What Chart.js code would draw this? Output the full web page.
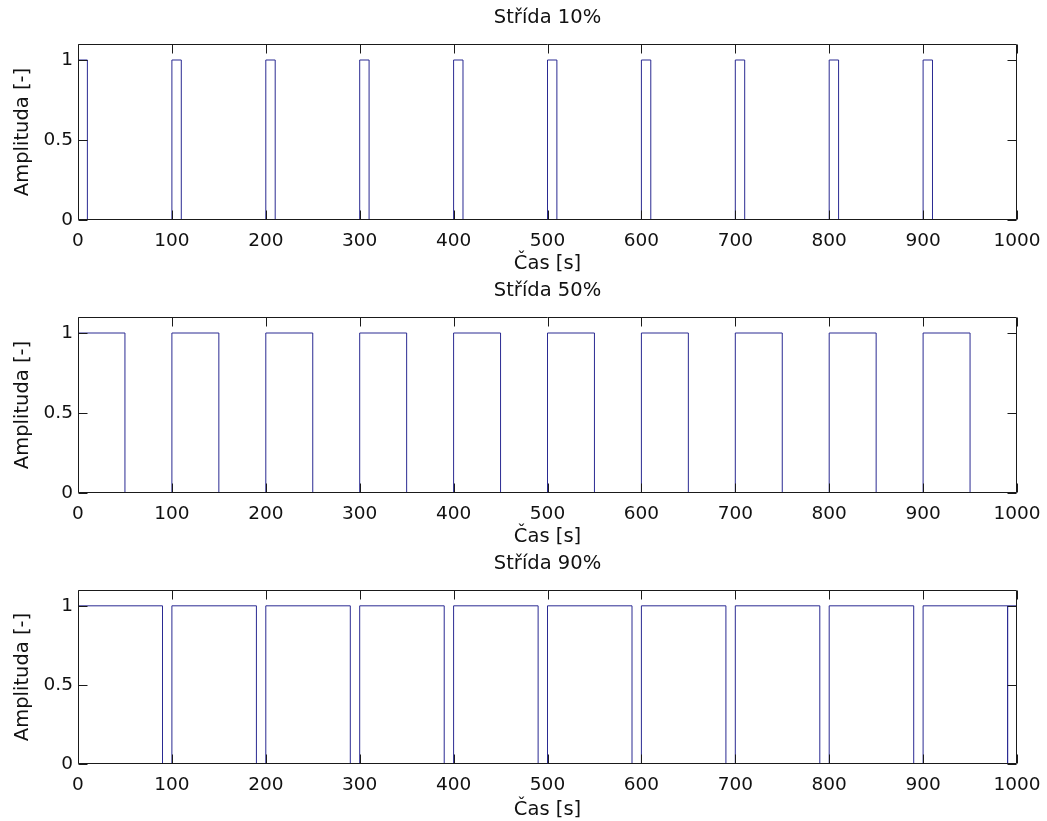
<!DOCTYPE html>
<html>
<head>
<meta charset="utf-8">
<script src="https://cdn.jsdelivr.net/npm/chart.js@4.4.1/dist/chart.umd.min.js"></script>
<style>
  html, body { margin: 0; padding: 0; background: #ffffff; width: 1047px; height: 821px; overflow: hidden; }
  canvas { position: absolute; left: 0; }
</style>
</head>
<body>
<canvas id="c1" width="1047" height="280" style="top:0px"></canvas>
<canvas id="c2" width="1047" height="280" style="top:273px"></canvas>
<canvas id="c3" width="1047" height="278" style="top:546px"></canvas>
<script>
// ---- data ----
const xTickValues = [0, 100, 200, 300, 400, 500, 600, 700, 800, 900, 1000];
const yTickValues = [0, 0.5, 1];
const titles = ['Střída 10%', 'Střída 50%', 'Střída 90%'];
const xLabel = 'Čas [s]';
const yLabel = 'Amplituda [-]';

// switching times [s] and the level that starts at each time
const times10 = [0, 10, 100, 110, 200, 210, 300, 310, 400, 410, 500, 510, 600, 610, 700, 710, 800, 810, 900, 910, 1000];
const levels10 = [1, 0, 1, 0, 1, 0, 1, 0, 1, 0, 1, 0, 1, 0, 1, 0, 1, 0, 1, 0, 0];

const times50 = [0, 50, 100, 150, 200, 250, 300, 350, 400, 450, 500, 550, 600, 650, 700, 750, 800, 850, 900, 950, 1000];
const levels50 = [1, 0, 1, 0, 1, 0, 1, 0, 1, 0, 1, 0, 1, 0, 1, 0, 1, 0, 1, 0, 0];

const times90 = [0, 90, 100, 190, 200, 290, 300, 390, 400, 490, 500, 590, 600, 690, 700, 790, 800, 890, 900, 990, 990, 1000];
const levels90 = [1, 0, 1, 0, 1, 0, 1, 0, 1, 0, 1, 0, 1, 0, 1, 0, 1, 0, 1, 0, 1, 1];

// ---- styling ----
const FONT = 'DejaVu Sans';
const TICK_FONT = { family: FONT, size: 18.5 };
const LABEL_FONT = { family: FONT, size: 19.5 };
const LINE_COLOR = '#2a2a92';
const AXIS_COLOR = '#1a1a1a';
const TEXT_COLOR = '#111111';

const framePlugin = {
  id: 'frame',
  afterDatasetsDraw(chart) {
    const { ctx, chartArea, scales } = chart;
    const L = Math.round(chartArea.left) + 0.5;
    const R = Math.round(chartArea.right) - 0.5;
    const T = Math.round(chartArea.top) + 0.5;
    const B = Math.round(chartArea.bottom) - 0.5;
    const len = 9;
    ctx.save();
    ctx.strokeStyle = AXIS_COLOR;
    ctx.lineWidth = 1;
    ctx.beginPath();
    ctx.rect(L, T, R - L, B - T);
    scales.x.ticks.forEach(t => {
      const px = Math.round(scales.x.getPixelForValue(t.value)) + 0.5;
      ctx.moveTo(px, B); ctx.lineTo(px, B - len);
      ctx.moveTo(px, T); ctx.lineTo(px, T + len);
    });
    scales.y.ticks.forEach(t => {
      const py = Math.round(scales.y.getPixelForValue(t.value)) + 0.5;
      ctx.moveTo(L, py); ctx.lineTo(L + len, py);
      ctx.moveTo(R, py); ctx.lineTo(R - len, py);
    });
    ctx.stroke();
    ctx.restore();
  }
};

function noPad(s) {
  s.paddingLeft = 0; s.paddingRight = 0; s.paddingTop = 0; s.paddingBottom = 0;
}

function makeChart(id, title, times, levels, xAxisHeight, xTitleBottom) {
  const pts = times.map((t, i) => ({ x: t, y: levels[i] }));
  return new Chart(document.getElementById(id), {
    type: 'line',
    data: {
      datasets: [{
        data: pts,
        stepped: 'before',
        borderColor: LINE_COLOR,
        borderWidth: 1,
        pointRadius: 0,
        fill: false
      }]
    },
    options: {
      responsive: false,
      animation: false,
      devicePixelRatio: 1,
      layout: { padding: { left: 0, right: 30, top: 0, bottom: 0 } },
      plugins: { legend: { display: false }, tooltip: { enabled: false }, title: { display: false } },
      scales: {
        x: {
          type: 'linear', position: 'bottom', min: 0, max: 1000,
          afterBuildTicks: s => { s.ticks = xTickValues.map(v => ({ value: v })); },
          afterFit: s => { s.height = xAxisHeight; noPad(s); },
          grid: { display: false, drawTicks: false },
          border: { display: false },
          ticks: { font: TICK_FONT, color: TEXT_COLOR, padding: 10.5, maxRotation: 0, autoSkip: false,
                   callback: v => String(v) },
          title: { display: true, text: xLabel, font: LABEL_FONT, color: TEXT_COLOR, padding: { top: 0, bottom: xTitleBottom } }
        },
        x2: {
          type: 'linear', position: 'top', min: 0, max: 1000,
          afterFit: s => { s.height = 44; noPad(s); },
          grid: { display: false, drawTicks: false },
          border: { display: false },
          ticks: { display: false },
          title: { display: true, text: title, font: LABEL_FONT, color: TEXT_COLOR, padding: { top: 6.0, bottom: 0 } }
        },
        y: {
          type: 'linear', position: 'left', min: 0, max: 1.1,
          afterBuildTicks: s => { s.ticks = yTickValues.map(v => ({ value: v })); },
          afterFit: s => { s.width = 78; noPad(s); },
          grid: { display: false, drawTicks: false },
          border: { display: false },
          ticks: { font: TICK_FONT, color: TEXT_COLOR, padding: 5, callback: v => String(v) },
          title: { display: true, text: yLabel, font: LABEL_FONT, color: TEXT_COLOR, padding: { top: 11.5, bottom: 0 } }
        }
      }
    },
    plugins: [framePlugin]
  });
}

makeChart('c1', titles[0], times10, levels10, 60, 4.5);
makeChart('c2', titles[1], times50, levels50, 60, 4.5);
makeChart('c3', titles[2], times90, levels90, 60, 2.5);
</script>
</body>
</html>
